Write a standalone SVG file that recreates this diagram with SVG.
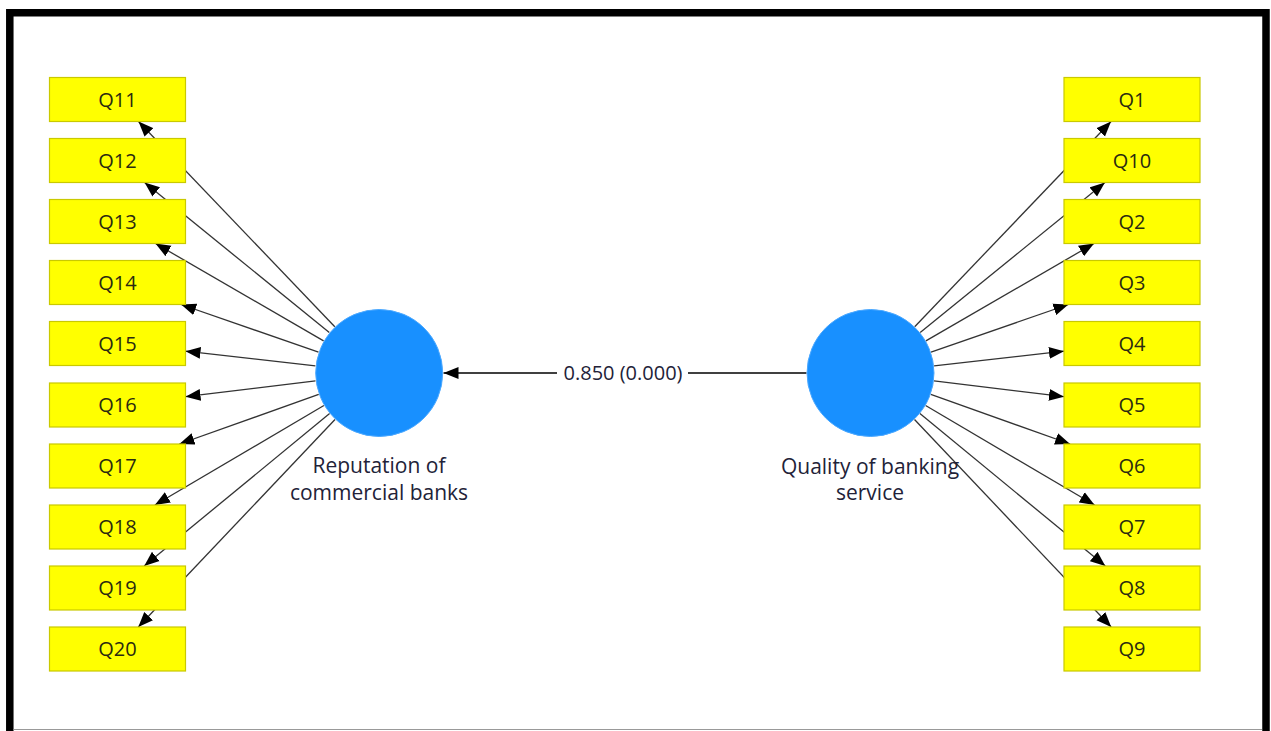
<svg xmlns="http://www.w3.org/2000/svg" width="1271" height="731" viewBox="0 0 1271 731">
<style>
.box rect{fill:#FFFF00;stroke:#C9C900;stroke-width:1.2}
.box text{font-family:"Open Sans","Noto Sans",sans-serif;font-size:20px;fill:#2a2a10;text-anchor:middle}
.lv circle{fill:#1890FF;stroke:#4aa8ff;stroke-width:1}
.lv text{font-family:"Open Sans","Noto Sans",sans-serif;font-size:21px;fill:#222238;text-anchor:middle}
.ld{stroke:#333;stroke-width:1.3;fill:none;marker-end:url(#ah)}
.path{stroke:#000;stroke-width:1.5;fill:none;marker-end:url(#ah)}
.plabel{font-family:"Open Sans","Noto Sans",sans-serif;font-size:20px;fill:#222238;text-anchor:middle}
</style>
<defs>
<marker id="ah" markerUnits="userSpaceOnUse" markerWidth="16" markerHeight="13" refX="15" refY="6.5" orient="auto" viewBox="0 0 16 13">
<path d="M0,0.5 L15,6.5 L0,12.5 z" fill="#000"/>
</marker>
</defs>
<rect x="0" y="0" width="1271" height="731" fill="#fff"/>
<path d="M9.8,731 V12.8 H1266 V731" fill="none" stroke="#000" stroke-width="7.5"/>
<line x1="13.5" y1="729.5" x2="1262" y2="729.5" stroke="#999" stroke-width="1"/>

<g id="connectors">
<line class="ld" x1="334.8" y1="326.7" x2="138.5" y2="121.5"/>
<line class="ld" x1="329.3" y1="332.6" x2="144.6" y2="182.5"/>
<line class="ld" x1="323.6" y1="340.9" x2="155.5" y2="243.5"/>
<line class="ld" x1="318.5" y1="352.1" x2="181.1" y2="304.5"/>
<line class="ld" x1="315.4" y1="365.8" x2="185.5" y2="351.2"/>
<line class="ld" x1="315.5" y1="380.8" x2="185.5" y2="396.7"/>
<line class="ld" x1="318.7" y1="394.4" x2="179.4" y2="444"/>
<line class="ld" x1="323.9" y1="405.5" x2="154.9" y2="505"/>
<line class="ld" x1="329.6" y1="413.6" x2="144.2" y2="566"/>
<line class="ld" x1="335" y1="419.5" x2="138.3" y2="627"/>

<line class="ld" x1="914.7" y1="326.7" x2="1111" y2="121.5"/>
<line class="ld" x1="920.2" y1="332.6" x2="1104.9" y2="182.5"/>
<line class="ld" x1="925.9" y1="340.9" x2="1094" y2="243.5"/>
<line class="ld" x1="931" y1="352.1" x2="1068.4" y2="304.5"/>
<line class="ld" x1="934.1" y1="365.8" x2="1064" y2="351.2"/>
<line class="ld" x1="934" y1="380.8" x2="1064" y2="396.7"/>
<line class="ld" x1="930.8" y1="394.4" x2="1070.1" y2="444"/>
<line class="ld" x1="925.6" y1="405.5" x2="1094.6" y2="505"/>
<line class="ld" x1="919.9" y1="413.6" x2="1105.3" y2="566"/>
<line class="ld" x1="914.5" y1="419.5" x2="1111.2" y2="627"/>

<line class="path" x1="806.5" y1="373" x2="443.5" y2="373"/>
<rect x="557" y="361" width="131" height="24" fill="#fff"/>
<text class="plabel" x="623" y="380">0.850 (0.000)</text>
</g>

<g id="Q11" class="box"><rect x="49.5" y="77.5" width="136" height="44"/><text x="117.5" y="106.5">Q11</text></g>
<g id="Q12" class="box"><rect x="49.5" y="138.5" width="136" height="44"/><text x="117.5" y="167.5">Q12</text></g>
<g id="Q13" class="box"><rect x="49.5" y="199.5" width="136" height="44"/><text x="117.5" y="228.5">Q13</text></g>
<g id="Q14" class="box"><rect x="49.5" y="260.5" width="136" height="44"/><text x="117.5" y="289.5">Q14</text></g>
<g id="Q15" class="box"><rect x="49.5" y="321.5" width="136" height="44"/><text x="117.5" y="350.5">Q15</text></g>
<g id="Q16" class="box"><rect x="49.5" y="383" width="136" height="44"/><text x="117.5" y="412">Q16</text></g>
<g id="Q17" class="box"><rect x="49.5" y="444" width="136" height="44"/><text x="117.5" y="473">Q17</text></g>
<g id="Q18" class="box"><rect x="49.5" y="505" width="136" height="44"/><text x="117.5" y="534">Q18</text></g>
<g id="Q19" class="box"><rect x="49.5" y="566" width="136" height="44"/><text x="117.5" y="595">Q19</text></g>
<g id="Q20" class="box"><rect x="49.5" y="627" width="136" height="44"/><text x="117.5" y="656">Q20</text></g>

<g id="Q1" class="box"><rect x="1064" y="77.5" width="136" height="44"/><text x="1132" y="106.5">Q1</text></g>
<g id="Q10" class="box"><rect x="1064" y="138.5" width="136" height="44"/><text x="1132" y="167.5">Q10</text></g>
<g id="Q2" class="box"><rect x="1064" y="199.5" width="136" height="44"/><text x="1132" y="228.5">Q2</text></g>
<g id="Q3" class="box"><rect x="1064" y="260.5" width="136" height="44"/><text x="1132" y="289.5">Q3</text></g>
<g id="Q4" class="box"><rect x="1064" y="321.5" width="136" height="44"/><text x="1132" y="350.5">Q4</text></g>
<g id="Q5" class="box"><rect x="1064" y="383" width="136" height="44"/><text x="1132" y="412">Q5</text></g>
<g id="Q6" class="box"><rect x="1064" y="444" width="136" height="44"/><text x="1132" y="473">Q6</text></g>
<g id="Q7" class="box"><rect x="1064" y="505" width="136" height="44"/><text x="1132" y="534">Q7</text></g>
<g id="Q8" class="box"><rect x="1064" y="566" width="136" height="44"/><text x="1132" y="595">Q8</text></g>
<g id="Q9" class="box"><rect x="1064" y="627" width="136" height="44"/><text x="1132" y="656">Q9</text></g>

<g id="reputation" class="lv">
<circle cx="379.2" cy="373" r="63.5"/>
<text x="379" y="473">Reputation of</text>
<text x="379" y="500">commercial banks</text>
</g>
<g id="quality" class="lv">
<circle cx="870.5" cy="373" r="63.5"/>
<text x="870" y="474">Quality of banking</text>
<text x="870" y="500">service</text>
</g>
</svg>
